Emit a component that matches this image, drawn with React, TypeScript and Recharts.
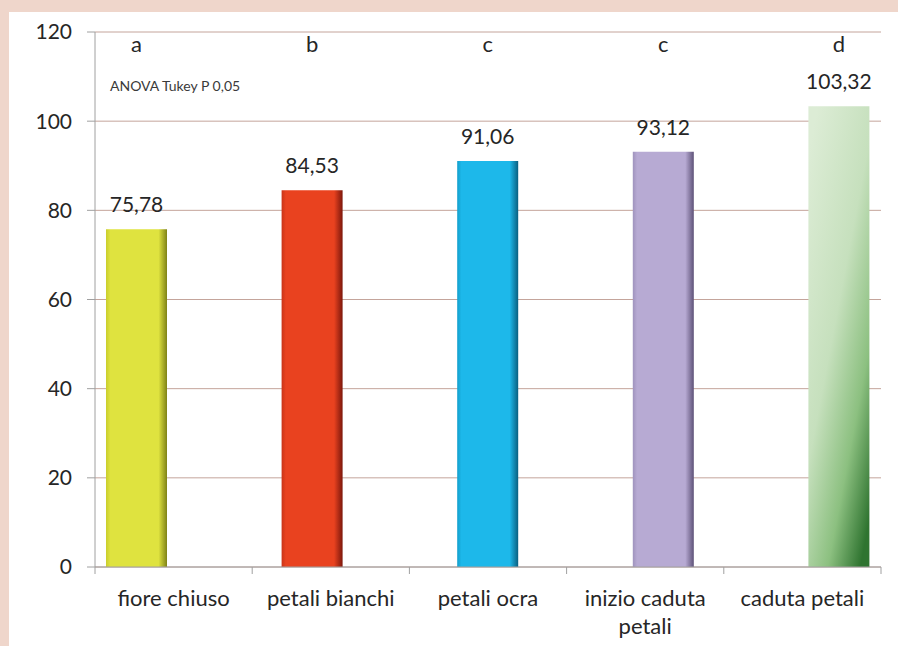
import React from 'react';
import { BarChart, Bar, XAxis, YAxis, CartesianGrid, Cell, LabelList } from 'recharts';

// fenological stages and measured values (Tukey groups on top)
const categories = ['fiore chiuso', 'petali bianchi', 'petali ocra', 'inizio caduta petali', 'caduta petali'];
const values = [75.78, 84.53, 91.06, 93.12, 103.32];
const groups = ['a', 'b', 'c', 'c', 'd'];
const yTicks = [0, 20, 40, 60, 80, 100, 120];

const data = categories.map((name, i) => ({ name, value: values[i], group: groups[i] }));

const FONT = 'Lato, "Open Sans", sans-serif';
const TEXT = '#262626';
const AXIS = '#a0a0a0';
const W = 898;
const H = 646;
const MARGIN = { top: 32, right: 17, left: 0, bottom: 0 };
const Y_WIDTH = 95;
const SLOT = (W - Y_WIDTH - MARGIN.right) / categories.length;

// bevel-ish fills: [edge, main, dark edge]
const fills = [
  ['#c9cd2c', '#dfe33f', '#7f8216'],
  ['#c93418', '#e9421f', '#7c170c'],
  ['#139fcc', '#1db8ea', '#0a5f80'],
  ['#9f93bd', '#b7aad3', '#5e5278'],
];

const fmt = (v: number) => v.toFixed(2).replace('.', ',');

// greedy word wrap, like Excel does on narrow category slots
const wrap = (s: string, max = 14) => {
  const lines: string[] = [];
  s.split(' ').forEach((w) => {
    const last = lines[lines.length - 1];
    if (last && (last + ' ' + w).length <= max) lines[lines.length - 1] = last + ' ' + w;
    else lines.push(w);
  });
  return lines;
};

const CategoryTick = (props: any) => {
  const { x, y, payload, index } = props;
  const left = x - SLOT / 2;
  return (
    <g>
      <line x1={left} y1={y} x2={left} y2={y + 7} stroke={AXIS} />
      {index === categories.length - 1 && <line x1={x + SLOT / 2} y1={y} x2={x + SLOT / 2} y2={y + 7} stroke={AXIS} />}
      <text x={x} y={y + 39} textAnchor="middle" fill={TEXT} fontSize={22} fontFamily={FONT}>
        {wrap(payload.value).map((line, i) => (
          <tspan key={i} x={x} dy={i === 0 ? 0 : 28}>
            {line}
          </tspan>
        ))}
      </text>
    </g>
  );
};

const GroupLetter = (props: any) => {
  const { x, width, value } = props;
  return (
    <text x={Number(x) + Number(width) / 2} y={MARGIN.top + 20} textAnchor="middle" fill={TEXT} fontSize={22} fontFamily={FONT}>
      {value}
    </text>
  );
};

export default function App() {
  return (
    <div style={{ position: 'absolute', left: 0, top: 0, width: W, height: H, background: '#efd6cb', fontFamily: FONT }}>
      <div style={{ position: 'absolute', left: 9, top: 12, right: 0, bottom: 0, background: '#ffffff' }} />
      <div style={{ position: 'absolute', left: 0, top: 0 }}>
        <BarChart width={W} height={H} data={data} margin={MARGIN}>
          <defs>
            {fills.map((f, i) => (
              <linearGradient key={i} id={`bev${i}`} x1="0" y1="0" x2="1" y2="0">
                <stop offset="0" stopColor={f[0]} />
                <stop offset="0.07" stopColor={f[1]} />
                <stop offset="0.86" stopColor={f[1]} />
                <stop offset="1" stopColor={f[2]} />
              </linearGradient>
            ))}
            <linearGradient id="bev4" x1="0.15" y1="0" x2="0.85" y2="1">
              <stop offset="0" stopColor="#dcecd5" />
              <stop offset="0.45" stopColor="#c6e0bd" />
              <stop offset="0.75" stopColor="#8cc080" />
              <stop offset="1" stopColor="#2f7430" />
            </linearGradient>
          </defs>
          <CartesianGrid vertical={false} stroke="#c4a49b" />
          <XAxis
            dataKey="name"
            height={79}
            stroke={AXIS}
            tickLine={false}
            tickSize={0}
            tickMargin={0}
            interval={0}
            tick={<CategoryTick />}
          />
          <XAxis xAxisId="bars" dataKey="name" hide padding={{ left: -46, right: -46 }} />
          <YAxis
            width={Y_WIDTH}
            domain={[0, 120]}
            ticks={yTicks}
            interval={0}
            tickSize={8}
            tickMargin={15}
            stroke={AXIS}
            tick={{ fill: TEXT, fontSize: 21, fontFamily: FONT }}
          />
          <Bar dataKey="value" xAxisId="bars" barSize={61} isAnimationActive={false}>
            {data.map((d, i) => (
              <Cell key={d.name} fill={`url(#bev${i})`} />
            ))}
            <LabelList
              dataKey="value"
              position="top"
              offset={17}
              formatter={(v: any) => fmt(Number(v))}
              fill={TEXT}
              style={{ fontSize: 21, fontFamily: FONT }}
            />
            <LabelList dataKey="group" content={<GroupLetter />} />
          </Bar>
        </BarChart>
      </div>
      <div style={{ position: 'absolute', left: 110, top: 77, fontSize: 14, color: '#3a3a3a', fontFamily: FONT, whiteSpace: 'nowrap' }}>
        ANOVA Tukey P 0,05
      </div>
    </div>
  );
}
